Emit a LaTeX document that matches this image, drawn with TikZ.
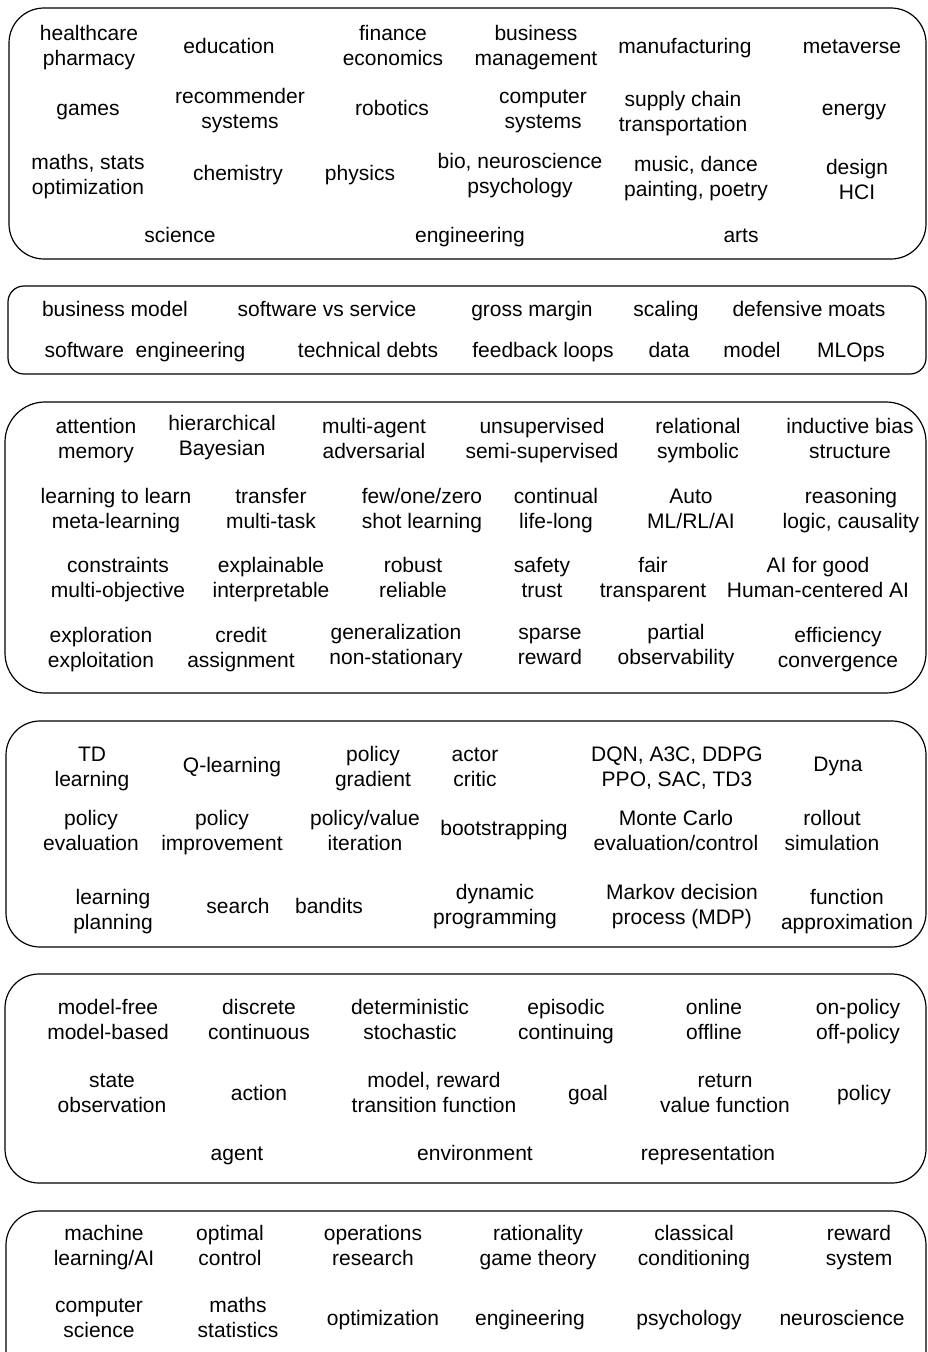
\documentclass[tikz,border=0pt]{standalone}
\usepackage{fontspec}
\setmainfont{Liberation Sans}

\tikzset{
  topic/.style={align=center, inner sep=0pt, yshift=-2pt, font=\fontsize{21}{25}\selectfont},
  panel/.style={draw, line width=1.2pt, rounded corners=#1},
}

\begin{document}
\begin{tikzpicture}[x=1pt,y=-1pt]
    \useasboundingbox (0,0) rectangle (927,1352);
    \clip (0,0) rectangle (927,1352);
    \draw[panel=35] (9,8) rectangle (926,259);
    \draw[panel=16] (8,286) rectangle (926,374);
    \draw[panel=40] (5,402) rectangle (926,693);
    \draw[panel=34] (6,721) rectangle (926,947);
    \draw[panel=34] (5,974) rectangle (926,1183);
    \draw[panel=34] (6,1211) rectangle (926,1390);
    \foreach \px/\py/\txt [count=\i] in {
        89/46/{healthcare\\pharmacy}, 229/46/{education}, 393/46/{finance\\economics},
        536/46/{business\\management}, 685/46/{manufacturing}, 852/46/{metaverse},
        88/108/{games}, 240/109/{recommender\\systems}, 392/108/{robotics},
        543/109/{computer\\systems}, 683/112/{supply chain\\transportation}, 854/108/{energy},
        88/175/{maths, stats\\optimization}, 238/173/{chemistry}, 360/173/{physics},
        520/174/{bio, neuroscience\\psychology}, 696/177/{music, dance\\painting, poetry}, 857/180/{design\\HCI},
        180/235/{science}, 470/235/{engineering}, 741/235/{arts}}
      \node[topic] (dom\i) at (\px,\py) {\strut\txt\strut};
    \foreach \px/\py/\txt [count=\i] in {
        115/309/{business model}, 327/309/{software vs service}, 532/309/{gross margin},
        666/309/{scaling}, 809/309/{defensive moats},
        145/350/{software\ \ engineering}, 368/350/{technical debts}, 543/350/{feedback loops},
        669/350/{data}, 752/350/{model}, 851/350/{MLOps}}
      \node[topic] (biz\i) at (\px,\py) {\strut\txt\strut};
    \foreach \px/\py/\txt [count=\i] in {
        96/439/{attention\\memory}, 222/436/{hierarchical\\Bayesian}, 374/439/{multi-agent\\adversarial},
        542/439/{unsupervised\\semi-supervised}, 698/439/{relational\\symbolic}, 850/439/{inductive bias\\structure},
        116/509/{learning to learn\\meta-learning}, 271/509/{transfer\\multi-task}, 422/509/{few/one/zero\\shot learning},
        556/509/{continual\\life-long}, 691/509/{Auto\\ML/RL/AI}, 851/509/{reasoning\\logic, causality},
        118/578/{constraints\\multi-objective}, 271/578/{explainable\\interpretable}, 413/578/{robust\\reliable},
        542/578/{safety\\trust}, 653/578/{fair\\transparent}, 818/578/{AI for good\\Human-centered AI},
        101/648/{exploration\\exploitation}, 241/648/{credit\\assignment}, 396/645/{generalization\\non-stationary},
        550/645/{sparse\\reward}, 676/645/{partial\\observability}, 838/648/{efficiency\\convergence}}
      \node[topic] (ml\i) at (\px,\py) {\strut\txt\strut};
    \foreach \px/\py/\txt [count=\i] in {
        92/767/{TD\\learning}, 232/765/{Q-learning}, 373/767/{policy\\gradient},
        475/767/{actor\\critic}, 677/767/{DQN, A3C, DDPG\\PPO, SAC, TD3}, 838/764/{Dyna},
        91/831/{policy\\evaluation}, 222/831/{policy\\improvement}, 365/831/{policy/value\\iteration},
        504/828/{bootstrapping}, 676/831/{Monte Carlo\\evaluation/control}, 832/831/{rollout\\simulation},
        113/910/{learning\\planning}, 238/906/{search}, 329/906/{bandits},
        495/905/{dynamic\\programming}, 682/905/{Markov decision\\process (MDP)}, 847/910/{function\\approximation}}
      \node[topic] (rl\i) at (\px,\py) {\strut\txt\strut};
    \foreach \px/\py/\txt [count=\i] in {
        108/1020/{model-free\\model-based}, 259/1020/{discrete\\continuous}, 410/1020/{deterministic\\stochastic},
        566/1020/{episodic\\continuing}, 714/1020/{online\\offline}, 858/1020/{on-policy\\off-policy},
        112/1093/{state\\observation}, 259/1093/{action}, 434/1093/{model, reward\\transition function},
        588/1093/{goal}, 725/1093/{return\\value function}, 864/1093/{policy},
        237/1153/{agent}, 475/1153/{environment}, 708/1153/{representation}}
      \node[topic] (core\i) at (\px,\py) {\strut\txt\strut};
    \foreach \px/\py/\txt [count=\i] in {
        104/1246/{machine\\learning/AI}, 230/1246/{optimal\\control}, 373/1246/{operations\\research},
        538/1246/{rationality\\game theory}, 694/1246/{classical\\conditioning}, 859/1246/{reward\\system},
        99/1318/{computer\\science}, 238/1318/{maths\\statistics}, 383/1318/{optimization},
        530/1318/{engineering}, 689/1318/{psychology}, 842/1318/{neuroscience}}
      \node[topic] (fld\i) at (\px,\py) {\strut\txt\strut};
\end{tikzpicture}
\end{document}
